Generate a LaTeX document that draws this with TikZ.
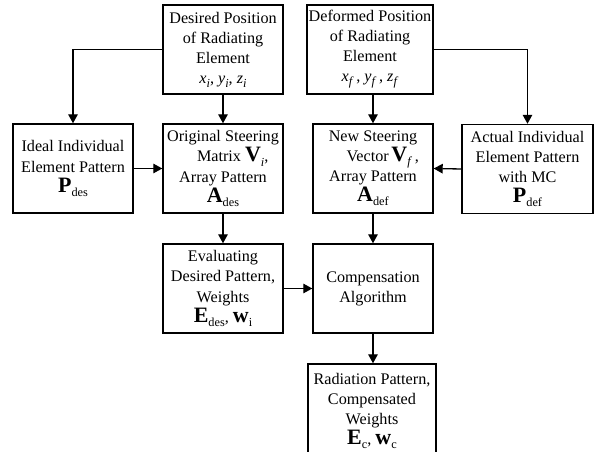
\documentclass[tikz,border=0pt]{standalone}
\usepackage{fontspec}
\setmainfont{Liberation Serif}
\usetikzlibrary{arrows.meta,positioning}
% bold symbol with upright index, italic symbol with italic index
\newcommand{\lowidx}[1]{\raisebox{-0.55ex}{\fontsize{7}{7}\selectfont #1}}
\newcommand{\bsym}[2]{{\fontsize{12.5}{12}\selectfont\textbf{#1}}\lowidx{#2}}
\newcommand{\isym}[2]{\textit{#1}\lowidx{\textit{#2}}}
\tikzset{
  pblock/.style={draw=black,line width=0.8pt,align=center,inner sep=1pt,minimum width=2.4cm,minimum height=1.78cm},
  parr/.style={-{Triangle[length=1.8mm,width=1.9mm]},line width=0.75pt,draw=black}
}

\begin{document}
\begin{tikzpicture}[font=\fontsize{9.2}{11.4}\selectfont]
  \useasboundingbox (0,0) rectangle (11.88,-9.04);
  % element positions
  \node[pblock] (des) at (4.46,-0.99) {Desired Position\\ of Radiating\\ Element\\ \isym{x}{i}, \isym{y}{i}, \isym{z}{i}};
  \node[pblock,minimum width=2.52cm] (dfm) at (7.40,-0.99) {Deformed Position\\ of Radiating\\ Element\\ \isym{x}{f}\,, \isym{y}{f}\,, \isym{z}{f}};
  % element patterns and steering
  \node[pblock] (ideal) at (1.46,-3.37) {Ideal Individual\\ Element Pattern\\ \bsym{P}{des}};
  \node[pblock] (orig) at (4.46,-3.37) {Original Steering\\ \hspace*{1.2em}Matrix \bsym{V}{\textit{i}},\\ Array Pattern\\ \bsym{A}{des}};
  \node[pblock] (newst) at (7.46,-3.37) {New Steering\\ \hspace*{1.2em}Vector\,\bsym{V}{\textit{f}}\,,\\ Array Pattern\\ \bsym{A}{def}};
  \node[pblock,minimum width=2.62cm] (act) at (10.55,-3.38) {Actual Individual\\ Element Pattern\\ with MC\\ \bsym{P}{def}};
  % evaluation and compensation
  \node[pblock] (eval) at (4.46,-5.77) {Evaluating\\ Desired Pattern,\\ Weights\\ \bsym{E}{des}, \bsym{w}{i}};
  \node[pblock] (comp) at (7.46,-5.77) {Compensation\\ Algorithm};
  \node[pblock,minimum width=2.56cm,minimum height=1.88cm] (rad) at (7.44,-8.22) {Radiation Pattern,\\ Compensated\\ Weights\\ \bsym{E}{c}, \bsym{w}{c}};
  % connections
  \draw[parr] (des.west) -| (ideal.north);
  \draw[parr] (dfm.east) -| (act.north);
  \draw[parr] (des.south) -- (orig.north);
  \draw[parr] (newst.north |- dfm.south) -- (newst.north);
  \draw[parr] (ideal.east) -- (orig.west);
  \draw[parr] (act.west) -- (newst.east);
  \draw[parr] (orig.south) -- (eval.north);
  \draw[parr] (newst.south) -- (comp.north);
  \draw[parr] (eval.east) -- (comp.west);
  \draw[parr] (comp.south) -- (comp.south |- rad.north);
\end{tikzpicture}
\end{document}
